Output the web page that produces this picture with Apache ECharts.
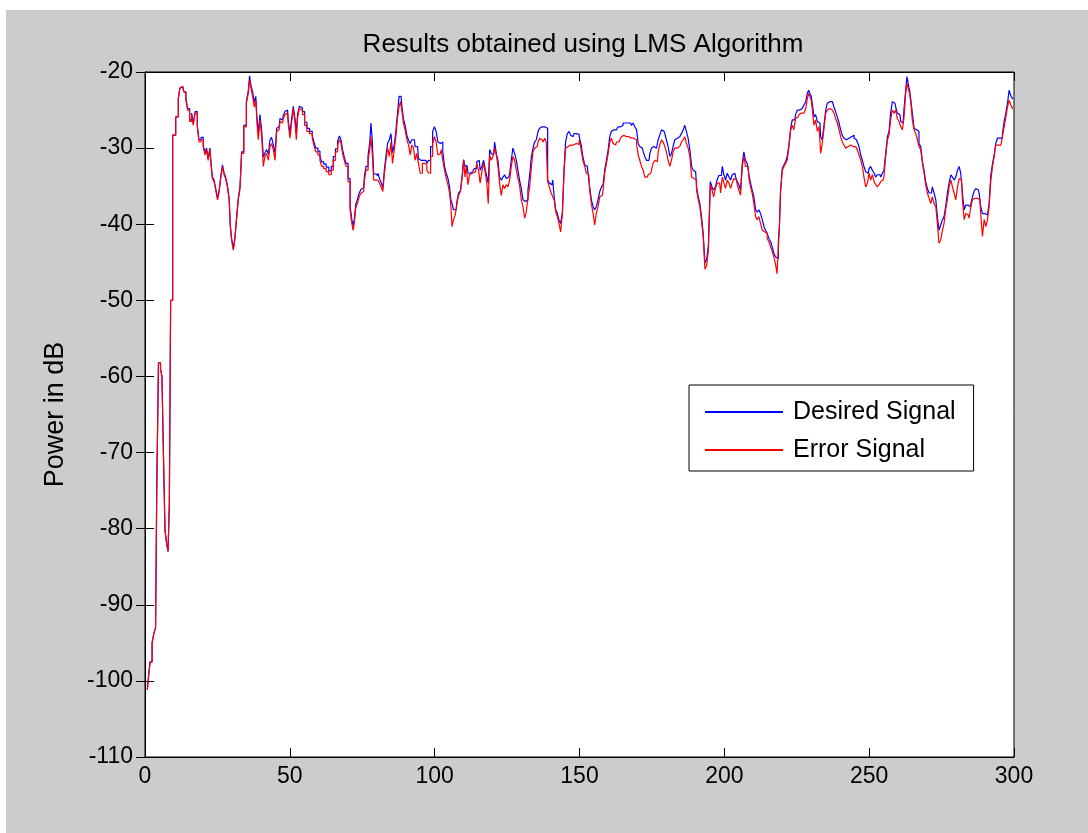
<!DOCTYPE html>
<html>
<head>
<meta charset="utf-8">
<script src="https://cdn.jsdelivr.net/npm/echarts@6/dist/echarts.min.js"></script>
<style>
  html, body { margin: 0; padding: 0; background: #fff; }
  #lms_chart { position: absolute; left: 6px; top: 10px; width: 1082px; height: 823px; }
</style>
</head>
<body>
<div id="lms_chart"></div>
<script>
// sample positions (iteration index)
var steps = [
  0.8,1.4,2.1,2.8,3.4,3.9,4.2,5.1,5.6,6.1,
  6.6,7.2,7.7,8.2,8.6,9.1,10.0,11.2,11.8,12.3,
  13.0,13.8,14.4,15.0,15.8,16.4,16.9,17.7,18.4,18.9,
  19.8,20.4,21.0,21.5,22.1,22.7,23.0,23.5,24.2,24.8,
  25.3,25.9,26.5,27.0,27.6,28.1,28.8,29.3,29.6,30.2,
  30.8,31.3,31.9,32.5,33.1,33.6,34.6,35.4,35.9,36.3,
  36.9,37.4,38.0,38.5,38.8,39.4,40.0,40.6,41.1,41.7,
  42.3,42.9,43.4,44.0,44.6,45.2,45.7,46.3,46.9,47.5,
  48.0,48.6,49.2,49.8,50.3,50.9,51.5,52.1,52.4,52.9,
  53.6,54.0,54.7,55.5,56.3,57.3,58.2,58.6,59.3,60.1,
  60.7,61.3,62.1,63.0,63.9,64.7,65.3,66.2,66.8,67.4,
  67.9,68.5,69.1,69.7,70.5,71.1,71.7,72.0,72.5,73.0,
  73.6,74.3,74.9,75.5,76.0,76.6,77.4,77.8,78.2,78.7,
  79.2,80.1,80.7,81.2,81.8,82.4,82.9,83.5,84.0,84.7,
  85.1,85.8,86.3,86.9,87.4,88.0,88.4,88.9,89.5,90.1,
  90.7,91.3,91.8,92.4,93.0,93.5,94.1,94.7,95.3,96.2,
  97.0,97.6,98.2,99.0,99.6,100.2,100.8,101.4,102.0,102.5,
  103.1,103.7,104.3,104.9,105.4,105.8,106.2,106.8,107.4,108.0,
  108.5,109.3,109.7,110.3,110.6,111.2,111.8,112.3,113.1,114.1,
  114.9,115.4,116.0,116.6,117.2,117.8,118.3,118.7,119.3,119.8,
  120.4,121.0,121.6,122.1,122.7,123.3,123.9,124.4,125.0,125.6,
  126.2,126.7,127.3,127.9,128.5,129.0,129.6,130.2,130.8,131.3,
  131.9,132.5,133.1,133.7,134.2,134.8,135.4,136.0,136.5,137.1,
  137.7,138.3,138.7,139.3,139.9,140.5,141.0,141.5,142.1,142.6,
  143.2,143.8,144.4,144.9,145.5,146.1,146.7,147.2,147.8,148.4,
  149.4,150.4,150.8,151.5,152.1,152.7,153.2,153.8,154.4,155.0,
  155.5,156.1,156.7,157.3,157.9,158.4,159.0,159.6,160.2,160.7,
  161.3,161.9,162.5,163.0,163.6,164.2,164.8,165.3,165.9,166.5,
  167.1,167.6,168.2,168.8,169.4,170.0,170.5,171.1,171.7,172.3,
  172.8,173.4,174.0,174.6,175.1,175.7,176.3,176.9,177.4,178.0,
  178.6,179.2,179.7,180.3,180.9,181.5,182.0,182.6,183.2,183.8,
  184.3,184.9,185.5,186.1,186.6,187.2,187.8,188.4,189.0,189.5,
  190.1,190.7,191.3,191.8,192.4,193.0,193.6,194.2,194.8,195.5,
  196.0,196.6,197.2,197.8,198.4,199.0,199.6,200.1,200.7,201.3,
  201.9,202.4,203.0,203.6,204.2,204.7,205.3,205.9,206.5,207.0,
  207.6,208.2,208.8,209.3,209.9,210.5,211.1,211.6,212.2,212.8,
  213.4,213.9,214.5,215.1,215.7,216.3,216.8,217.4,218.0,218.4,
  218.9,219.1,219.7,220.3,220.9,221.4,222.0,222.6,223.2,223.7,
  224.3,224.9,225.5,226.0,226.6,227.2,227.8,228.4,228.9,229.3,
  229.7,230.3,230.7,231.2,231.8,232.4,233.0,233.5,234.1,234.7,
  235.3,235.8,236.4,237.0,237.6,238.1,238.7,239.3,239.9,240.4,
  241.0,241.6,242.2,242.8,243.3,243.9,244.5,245.1,245.6,246.2,
  246.8,247.4,247.9,248.5,249.1,249.7,250.2,250.8,251.4,252.0,
  252.5,253.1,253.7,254.3,254.8,255.4,256.0,256.6,257.1,257.7,
  258.3,258.9,259.4,260.0,260.6,261.2,261.7,262.3,262.9,263.2,
  263.7,264.2,264.6,265.2,265.8,266.4,266.9,267.5,268.1,268.7,
  269.2,269.8,270.4,271.0,271.5,272.1,272.7,273.3,273.8,274.4,
  275.0,275.6,276.1,276.7,277.3,277.9,278.5,279.0,279.6,280.2,
  280.8,281.3,281.9,282.5,283.1,283.6,284.2,284.8,285.4,285.9,
  286.5,287.1,287.7,288.2,288.8,289.4,290.0,290.6,291.1,291.7,
  292.3,292.9,293.4,294.0,294.6,295.2,295.7,296.3,296.9,297.5,
  298.0,298.6,299.2,299.7
];

// desired signal power, dB
var desiredDb = [
  -101.2,-99.9,-97.5,-95,-93.7,-93,-75.2,-58.2,-59,-60,
  -69.9,-80.2,-81.9,-83,-76.9,-50,-28.3,-25.9,-23.5,-22.1,
  -21.9,-22.6,-23.4,-24.8,-26.3,-25.4,-26.8,-25.2,-27,-28.9,
  -28.6,-29.6,-30.6,-30,-31.4,-30,-32.2,-33.8,-34.2,-35.5,
  -36.6,-35.5,-33.6,-32.2,-33.3,-33.8,-34.9,-36.6,-40.1,-41.9,
  -43.2,-41.7,-39.2,-36.6,-35.1,-30.5,-27,-23.9,-22.5,-20.5,
  -21.8,-22.6,-24,-23.2,-26,-28,-25.6,-27.8,-31.2,-30.6,
  -30.2,-30.8,-28.9,-28.6,-29.6,-30.6,-27.4,-27.2,-26.1,-26.3,
  -25.7,-25.2,-25,-26.6,-28,-26.2,-24.5,-26.2,-28,-25.6,
  -24.5,-24.7,-25.2,-26.6,-27.4,-27.8,-28.4,-29.3,-30,-30.4,
  -31.1,-31.8,-32.1,-32.5,-33,-32.4,-31.1,-30.1,-29.1,-28.4,
  -28.9,-30.2,-31.2,-32,-34,-37.6,-39.4,-40.2,-39.4,-37.4,
  -36.8,-35.9,-35.4,-35.2,-33.7,-32.4,-31,-29.2,-26.7,-28.9,
  -33.4,-33.6,-33.3,-34,-34.5,-35.2,-32.8,-31,-29.4,-28.9,
  -28.1,-30.6,-29.6,-27.8,-25.5,-23.2,-23.2,-24.4,-26.1,-27,
  -28.3,-29,-29.4,-28.9,-28.9,-29.8,-29.8,-31.4,-31.6,-31.6,
  -31.6,-32,-31.6,-29.8,-27.8,-27.2,-27.8,-29.2,-29.4,-29.2,
  -30.5,-32.4,-33.3,-34,-35.1,-36.8,-37.3,-38.1,-38.1,-37,
  -35.9,-35.6,-33.6,-31.5,-32.4,-32.3,-33.3,-33.3,-33.1,-32.7,
  -31.8,-31.6,-32.9,-32.4,-31.6,-32.9,-33.8,-34.6,-30.2,-30.7,
  -30.9,-29.2,-30.8,-31.6,-33.8,-34.2,-33.8,-33.5,-34,-33.8,
  -33.3,-31.6,-30,-30.7,-31.6,-32.9,-34.2,-35.3,-36.8,-37,
  -36.8,-35.5,-33.5,-31.1,-30,-29.2,-28.9,-27.8,-27.4,-27.2,
  -27.2,-27.2,-27.4,-34.2,-34.6,-34.8,-34.2,-36.4,-38.1,-38.6,
  -39.4,-39.9,-38.4,-32.9,-29.2,-28.1,-27.8,-28.3,-28.5,-28.1,
  -28.2,-28.5,-29.6,-31.1,-32.2,-32.4,-33.3,-35.1,-36.8,-37.7,
  -38.1,-37.7,-36.8,-35.7,-35.1,-34.8,-32.9,-31.6,-30.2,-28.5,
  -27.8,-27.6,-27.6,-27.4,-27.2,-27.2,-27,-26.7,-26.7,-26.7,
  -26.5,-26.7,-27,-26.7,-27.2,-27.6,-29.4,-29.8,-30,-30.5,
  -31.1,-31.6,-31.6,-30.7,-30,-29.8,-30,-29.8,-28.9,-28.3,
  -27.6,-27.8,-28.1,-28.9,-29.8,-31.1,-30.7,-29.8,-28.9,-28.7,
  -28.5,-28.3,-28.1,-27.6,-27,-27.8,-28.7,-30.2,-32.4,-32.9,
  -33.1,-35.1,-36.4,-37.3,-39,-41.2,-45.1,-44.6,-42.8,-34.4,
  -35.1,-35.5,-35.1,-34.2,-33.6,-33.6,-32.4,-33.5,-34.2,-33.3,
  -33.8,-34.2,-33.5,-33.3,-33.8,-34.4,-34.8,-35.5,-32,-30.5,
  -31.6,-32,-33.5,-34.6,-35.5,-36.4,-38.1,-38.4,-38.1,-38.6,
  -39.4,-40.3,-40.8,-41.2,-41.9,-42.3,-43,-43.8,-44.3,-44.5,
  -42.2,-40.3,-35.7,-32.7,-32.2,-31.8,-31.1,-29.6,-27.4,-26.3,
  -26.3,-25.6,-25,-25,-24.8,-24.6,-24.3,-23.9,-22.8,-22.4,
  -22.8,-23.2,-24.5,-25.9,-25.6,-26.5,-26.7,-28.5,-28.9,-27,
  -25,-24.1,-23.9,-23.9,-24.1,-24.6,-25.2,-25.9,-26.7,-27.6,
  -28.3,-28.7,-28.9,-28.7,-28.5,-28.5,-28.3,-28.7,-28.9,-29.2,
  -29.8,-30.9,-31.6,-32.4,-33.1,-33.3,-32.7,-32.4,-32.9,-33.3,
  -33.8,-33.5,-33.5,-33.8,-33.3,-32.9,-30.7,-28.5,-27.8,-25.4,
  -23.9,-24.1,-24.6,-25.4,-25.6,-26.5,-26.7,-25,-22.4,-20.6,
  -21.5,-22.4,-23.7,-25.4,-27.4,-27.6,-27.8,-29.4,-29.8,-31.8,
  -32.9,-34.4,-35.3,-35.9,-35.9,-35.1,-35.9,-36.8,-39,-40.8,
  -40.1,-39.4,-39,-37.7,-35.9,-34.6,-33.5,-33.8,-34.2,-33.8,
  -32.9,-32.4,-33.3,-35.9,-38.1,-37.5,-37.5,-37.7,-37.3,-36.4,
  -35.7,-35.3,-35.5,-35.9,-37.7,-38.6,-38.6,-38.8,-39,-37.3,
  -33.5,-32,-30.9,-29.4,-28.7,-28.7,-28.7,-28.1,-26.5,-25.4,
  -24.1,-22.4,-23.1,-23.5
];

// error signal power, dB
var errorDb = [
  -101.2,-99.9,-97.5,-95,-93.7,-93,-75.2,-58.2,-59,-60,
  -69.9,-80.2,-81.9,-83,-76.9,-50,-28.3,-25.9,-23.5,-22.1,
  -21.9,-22.6,-23.6,-25,-26.5,-25.6,-27,-25.4,-27.2,-29.2,
  -28.9,-29.8,-30.9,-30.2,-31.6,-30.2,-32.4,-34,-34.4,-35.7,
  -36.8,-35.7,-33.8,-32.4,-33.5,-34,-35.1,-36.8,-40.3,-42.1,
  -43.4,-41.9,-39.4,-36.8,-35.3,-30.7,-27.2,-24.1,-22.8,-21.0,
  -22.1,-23.2,-24.6,-23.7,-26.7,-28.9,-26.3,-28.5,-32.4,-31.1,
  -30.7,-31.6,-29.8,-29.4,-30.2,-31.6,-27.8,-27.6,-26.5,-26.7,
  -26.1,-25.6,-25.4,-27,-28.7,-26.7,-24.8,-26.7,-28.9,-26.1,
  -24.8,-25,-25.6,-27,-27.8,-28.1,-28.7,-29.8,-30.5,-30.9,
  -31.6,-32.4,-32.7,-33.1,-33.5,-32.9,-31.6,-30.5,-29.6,-28.9,
  -29.3,-30.7,-31.6,-32.4,-34.4,-38.1,-39.9,-40.8,-39.9,-37.9,
  -37.3,-36.4,-35.9,-35.7,-34.2,-32.9,-31.6,-30.2,-28.5,-30.7,
  -34.2,-34.2,-34,-34.6,-35.1,-35.7,-33.3,-31.6,-30,-31.1,
  -29.2,-32,-30.2,-28.5,-26.1,-24.6,-23.9,-25,-26.7,-27.6,
  -28.9,-29.6,-30.9,-29.6,-30,-31.6,-30.7,-32,-33.3,-32,
  -32.2,-32.9,-33.3,-31.1,-29.4,-28.5,-29.2,-30.9,-30.7,-30.2,
  -31.6,-32.9,-34,-34.8,-35.9,-37.7,-40.3,-39.4,-38.8,-37.3,
  -36.2,-35.7,-33.8,-31.6,-33.8,-32.4,-34.8,-33.5,-33.3,-33.1,
  -32,-32.9,-34.6,-33.1,-32,-33.3,-34.8,-37.3,-30.9,-31.6,
  -31.1,-30,-30.9,-32.4,-34.6,-36.2,-34.8,-35.3,-34.8,-35.1,
  -34.2,-32.4,-31.1,-31.6,-32.9,-34,-34.8,-36.8,-37.7,-39.2,
  -38.4,-36.6,-35.1,-32.4,-30.5,-30,-29.8,-29.2,-28.7,-28.9,
  -29.2,-28.7,-29.2,-34.4,-35.1,-35.9,-36.4,-36.8,-38.4,-39,
  -39.9,-41,-38.6,-33.3,-30,-29.8,-29.6,-29.8,-29.6,-29.4,
  -29.5,-28.9,-30.2,-31.6,-32.4,-33.3,-33.5,-35.5,-37.3,-38.6,
  -40.1,-38.6,-37.7,-36.4,-36.2,-35.5,-33.3,-32,-30.7,-29.2,
  -28.7,-29.4,-29.6,-29.2,-29.2,-28.9,-28.5,-28.3,-28.5,-28.7,
  -28.5,-28.7,-28.9,-28.7,-28.9,-29.4,-30.9,-31.6,-32.4,-32.9,
  -33.8,-33.8,-33.5,-33.3,-32.9,-32,-31.6,-31.8,-30.5,-29.6,
  -28.9,-29.2,-29.8,-30.5,-31.6,-32.4,-31.6,-30.5,-30,-30,
  -29.8,-29.6,-29.2,-28.9,-28.5,-29.4,-30,-31.1,-33.8,-34,
  -34.2,-35.5,-36.8,-37.7,-39.4,-41.6,-45.9,-45.4,-43.4,-34.8,
  -35.5,-36.4,-35.3,-34.6,-34.6,-35.9,-33.8,-34.6,-35.3,-34.2,
  -34.6,-35.3,-34.6,-34,-34.2,-34.8,-35.5,-36.2,-32.4,-31.1,
  -32.4,-32.4,-34,-35.1,-35.9,-37.3,-39,-39.4,-39,-39.9,
  -40.8,-41,-41.2,-41.9,-42.3,-43,-43.6,-44.3,-45.3,-46.5,
  -43,-40.5,-35.9,-32.9,-32.4,-32,-31.6,-29.8,-27.6,-27,
  -27.6,-26.1,-25.9,-25.6,-25.4,-25.4,-25.2,-24.8,-23.5,-22.8,
  -23.2,-23.7,-25.4,-27,-26.3,-27.8,-27.2,-30.7,-29.4,-27.4,
  -25.4,-25,-24.8,-25,-25,-25.4,-26.1,-26.7,-27.6,-28.5,
  -29.2,-29.6,-30,-29.8,-29.6,-29.4,-29.8,-29.8,-30,-30.2,
  -30.9,-31.6,-32.4,-33.8,-35.1,-34.6,-33.3,-34.2,-33.5,-34.4,
  -34.8,-35.1,-34.8,-34.4,-34.2,-33.8,-31.1,-28.9,-28.3,-26.3,
  -25,-25.4,-25,-26.1,-26.5,-27.2,-27.6,-26.1,-22.8,-21.5,
  -22.1,-22.8,-24.1,-26.3,-27.6,-28.1,-28.9,-29.8,-30.2,-32,
  -33.3,-34.8,-35.9,-36.6,-37.3,-36.4,-37.3,-37.7,-39.9,-42.5,
  -42.1,-40.8,-39.9,-38.1,-36.8,-35.1,-34.2,-35.1,-35.9,-36.8,
  -35.1,-34,-34.2,-36.8,-39.4,-38.6,-38.8,-39.2,-37.7,-36.8,
  -36.6,-36.6,-36.6,-36.8,-38.6,-41.6,-39.4,-40.3,-39.4,-37.7,
  -34.2,-32.4,-31.1,-29.6,-29.6,-29.6,-29.4,-28.5,-27.2,-25.9,
  -24.6,-23.7,-24.3,-24.8
];

var seriesNames = ['Desired Signal', 'Error Signal'];

function pairs(xs, ys) {
    var out = [];
    for (var i = 0; i < xs.length; i++) out.push([xs[i], ys[i]]);
    return out;
}

var font = '"Liberation Sans", Arial, Helvetica, sans-serif';
var chart = echarts.init(document.getElementById('lms_chart'));

var tickIn = { show: true, inside: true, length: 9, lineStyle: { color: '#000', width: 1 } };
var blackLine = { show: true, lineStyle: { color: '#000', width: 1 } };

chart.setOption({
    animation: false,
    backgroundColor: '#cccccc',
    textStyle: { fontFamily: font, color: '#000' },
    title: {
        text: 'Results obtained using LMS Algorithm',
        left: 572,
        top: 17,
        textAlign: 'center',
        textStyle: { fontFamily: font, fontSize: 26, fontWeight: 'normal', color: '#000' }
    },
    grid: {
        left: 139, top: 62, right: 74, bottom: 76,
        show: true, backgroundColor: '#fff', borderColor: '#000', borderWidth: 1
    },
    legend: {
        data: seriesNames,
        orient: 'vertical',
        left: 683,
        top: 375,
        backgroundColor: '#fff',
        borderColor: '#000',
        borderWidth: 1,
        borderRadius: 0,
        padding: [14, 18, 8, 16],
        itemGap: 12,
        itemWidth: 78,
        itemHeight: 2,
        icon: 'rect',
        textStyle: { fontFamily: font, fontSize: 25, color: '#000', lineHeight: 26, padding: [0, 0, 0, 5] }
    },
    xAxis: [
        {
            type: 'value', min: 0, max: 300, interval: 50,
            axisLine: blackLine, axisTick: tickIn, splitLine: { show: false },
            axisLabel: { fontFamily: font, fontSize: 23, color: '#000', margin: 8 }
        },
        {
            type: 'value', position: 'top', min: 0, max: 300, interval: 50,
            axisLine: blackLine, axisTick: tickIn, splitLine: { show: false },
            axisLabel: { show: false }
        }
    ],
    yAxis: [
        {
            type: 'value', min: -110, max: -20, interval: 10,
            name: 'Power in dB', nameLocation: 'middle', nameGap: 76,
            nameTextStyle: { fontFamily: font, fontSize: 27, color: '#000' },
            axisLine: blackLine, axisTick: tickIn, splitLine: { show: false },
            axisLabel: { fontFamily: font, fontSize: 23, color: '#000', margin: 12 }
        },
        {
            type: 'value', position: 'right', min: -110, max: -20, interval: 10,
            axisLine: blackLine, axisTick: tickIn, splitLine: { show: false },
            axisLabel: { show: false }
        }
    ],
    series: [
        {
            name: seriesNames[0], type: 'line', step: 'middle',
            showSymbol: false, color: '#0000ff',
            lineStyle: { color: '#0000ff', width: 1.2 },
            data: pairs(steps, desiredDb)
        },
        {
            name: seriesNames[1], type: 'line', step: 'middle',
            showSymbol: false, color: '#ff0000',
            lineStyle: { color: '#ff0000', width: 1.2 },
            data: pairs(steps, errorDb)
        }
    ]
});
</script>
</body>
</html>
